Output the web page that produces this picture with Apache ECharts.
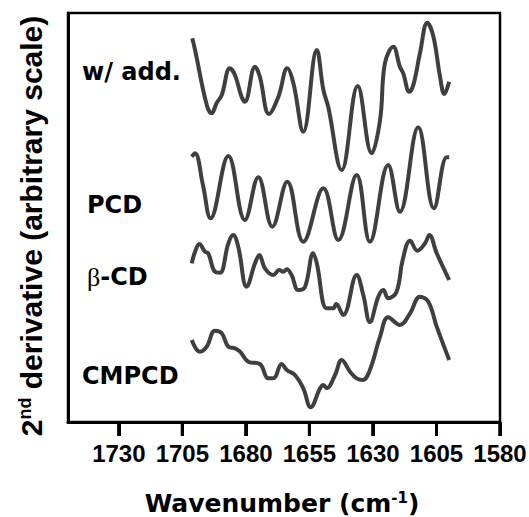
<!DOCTYPE html>
<html><head><meta charset="utf-8">
<script src="https://cdn.jsdelivr.net/npm/echarts@6/dist/echarts.min.js"></script>
<style>html,body{margin:0;padding:0;background:#fff}#c{width:529px;height:517px}</style>
</head><body><div id="c"></div>
<script>
// Tick labels (wavenumber, cm-1)
const xTicks = [1730, 1705, 1680, 1655, 1630, 1605, 1580];
const seriesNames = ['w/ add.', 'PCD', 'β-CD', 'CMPCD'];

// w/ add.
const wnAdd = [1701.1,1700.0,1695.4,1693.5,1691.5,1689.5,1686.3,1684.3,1681.7,1680.4,1676.4,1674.5,1670.9,1667.2,1663.7,1661.3,1657.4,1652.1,1649.5,1647.6,1642.3,1636.0,1630.5,1627.2,1625.3,1622.0,1619.4,1618.1,1615.7,1614.1,1611.5,1608.6,1606.2,1603.6,1601.9,1600.0];
const valAdd = [383.7,372,317,308.7,319,327,353.7,347,325.3,320.3,355.3,345.3,308,325.3,353.7,338.7,290.3,372,332,315.3,252,336,268.7,302,358.7,375.3,355.3,348.7,330.3,337,368.7,399.3,385.3,345.3,328,340.3];

// PCD
const wnPcd = [1701.3,1700.0,1696.9,1693.9,1686.9,1680.4,1675.1,1669.6,1663.7,1657.4,1649.5,1643.6,1636.4,1631.2,1624.0,1619.4,1612.2,1606.0,1601.0,1600.0];
const valPcd = [265.3,268.7,237,203.7,266,202,244.7,195.3,240.3,180.3,233.7,182,247,180.3,257,210.3,294.7,213.7,264.7,264.7];

// beta-CD
const wnBcd = [1701.3,1700.0,1698.3,1696.1,1694.8,1692.2,1690.2,1686.9,1685.0,1683.0,1679.7,1676.4,1674.7,1672.5,1669.2,1666.9,1665.3,1663.9,1662.0,1659.4,1656.7,1653.5,1652.1,1648.2,1645.6,1644.5,1641.7,1636.4,1633.8,1631.2,1627.9,1625.9,1624.0,1620.7,1618.3,1615.4,1612.5,1609.5,1607.8,1604.9,1600.0];
const valBcd = [158.7,170.3,178,170.3,168.7,150.3,149.3,178.7,187,175.3,135.3,158.7,167,153.7,147,152,150.3,152.7,147,132,135.3,168.7,158.7,113.7,113.7,118,107,147,127,100,125.3,132,123.7,130.3,162,181.3,171.3,178.7,187,168.7,142];

// CMPCD
const wnCmp = [1701.3,1698.1,1695.4,1692.2,1689.5,1686.9,1684.3,1682.3,1679.1,1674.5,1671.2,1669.2,1665.9,1663.9,1660.7,1657.4,1654.5,1650.8,1649.5,1648.2,1644.9,1642.3,1639.0,1636.4,1634.0,1631.2,1627.2,1624.0,1619.4,1615.4,1611.5,1608.2,1604.9,1600.0];
const valCmp = [82,70.3,75.3,91.3,88.7,75.3,73.7,70.3,60.3,58,43.7,43.7,58,52,47,33.7,14.7,33.7,37,33.7,47,62,50.3,43.7,42,52,85.3,104.7,97,108.7,125.3,120.3,95.3,62];

const zip = (a, b) => a.map((w, i) => [w, b[i]]);
const allData = [zip(wnAdd, valAdd), zip(wnPcd, valPcd), zip(wnBcd, valBcd), zip(wnCmp, valCmp)];

const chart = echarts.init(document.getElementById('c'), null, {renderer: 'svg'});
const lineSeries = allData.map((d, i) => ({
  name: seriesNames[i], type: 'line', data: d, smooth: 0.4, showSymbol: false, symbol: 'none', clip: false,
  lineStyle: {color: '#3f3f3f', width: 4}
}));
// outward tick marks at the tick values, placed through the axis scale
const tickSeries = {
  type: 'custom', coordinateSystem: 'cartesian2d', clip: false, silent: true, z: 20,
  data: xTicks.map(v => [v, 0]),
  renderItem: (params, api) => {
    const p = api.coord([api.value(0), api.value(1)]);
    return {type: 'rect', shape: {x: p[0] - 1.5, y: p[1], width: 3, height: 14}, style: {fill: '#000'}};
  }
};
const textGraphics = [
  {type: 'text', x: 31, y: 226, rotation: Math.PI / 2,
    style: {text: '{a|2}{s|nd}{a| derivative (arbitrary scale)}', align: 'center', verticalAlign: 'middle',
      rich: {a: {fontSize: 30, fontWeight: 'bold', fontFamily: 'Liberation Sans', fill: '#000'},
             s: {fontSize: 18, fontWeight: 'bold', fontFamily: 'Liberation Sans', fill: '#000', verticalAlign: 'top'}}}},
  {type: 'text', x: 282, y: 503,
    style: {text: '{a|Wavenumber (cm}{s|-1}{a|)}', align: 'center', verticalAlign: 'middle',
      rich: {a: {fontSize: 25, fontWeight: 'bold', fontFamily: 'DejaVu Sans', fill: '#000'},
             s: {fontSize: 15, fontWeight: 'bold', fontFamily: 'DejaVu Sans', fill: '#000', verticalAlign: 'top'}}}},
  {type: 'text', x: 82, y: 72, style: {text: seriesNames[0], align: 'left', verticalAlign: 'middle', font: 'bold 24px "DejaVu Sans"', fill: '#000'}},
  {type: 'text', x: 87, y: 205, style: {text: seriesNames[1], align: 'left', verticalAlign: 'middle', font: 'bold 24px "DejaVu Sans"', fill: '#000'}},
  {type: 'text', x: 87, y: 277, style: {text: '{b|β}{c|-CD}', align: 'left', verticalAlign: 'middle',
    rich: {b: {fontSize: 26, fontFamily: 'Liberation Serif', fontWeight: 'normal', fill: '#000'},
           c: {fontSize: 24, fontFamily: 'DejaVu Sans', fontWeight: 'bold', fill: '#000'}}}},
  {type: 'text', x: 82, y: 376, style: {text: seriesNames[3], align: 'left', verticalAlign: 'middle', font: 'bold 24px "DejaVu Sans"', fill: '#000'}}
];
chart.setOption({
  animation: false,
  backgroundColor: '#fff',
  grid: {left: 68, right: 29, top: 13, bottom: 95, outerBoundsMode: 'none', containLabel: false,
    show: true, borderColor: '#000', borderWidth: 2.5, backgroundColor: 'transparent'},
  xAxis: {
    type: 'value', min: 1580, max: 1750, inverse: true, z: 10,
    axisLine: {show: true, lineStyle: {color: '#000', width: 3}},
    axisTick: {show: true, customValues: xTicks, length: 14, lineStyle: {color: '#000', width: 3}},
    axisLabel: {show: true, customValues: xTicks, margin: 19, color: '#000', fontSize: 24, fontWeight: 'bold', fontFamily: 'Liberation Sans',
      formatter: v => String(v)},
    splitLine: {show: false}
  },
  yAxis: {
    type: 'value', min: 0, max: 409, z: 10,
    axisLine: {show: true, lineStyle: {color: '#000', width: 3}},
    axisTick: {show: false}, axisLabel: {show: false}, splitLine: {show: false}
  },
  graphic: textGraphics,
  series: lineSeries.concat([tickSeries])
});
const tickRects = xTicks.map(v => {
  const p = chart.convertToPixel({gridIndex: 0}, [v, 0]);
  return {type: 'rect', z: 50, shape: {x: p[0] - 1.5, y: p[1], width: 3, height: 14}, style: {fill: '#000'}};
});
chart.setOption({graphic: textGraphics.concat(tickRects)});
</script></body></html>
